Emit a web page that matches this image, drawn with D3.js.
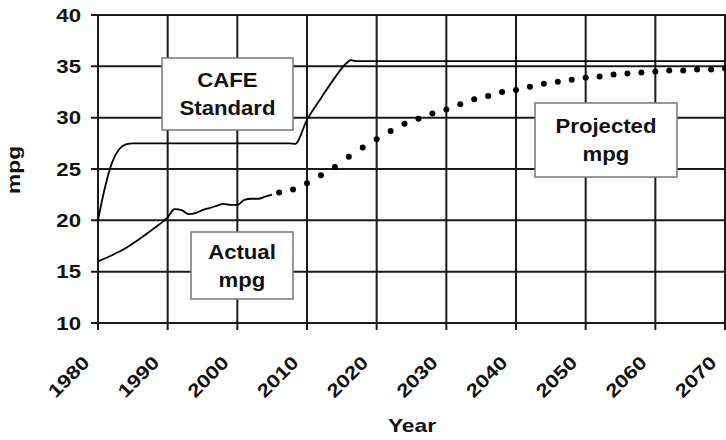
<!DOCTYPE html>
<html><head><meta charset="utf-8">
<script src="https://cdn.jsdelivr.net/npm/d3@7"></script>
<style>body{margin:0;background:#fff}svg{display:block}text{font-family:"Liberation Sans",Arial,sans-serif;font-weight:bold;fill:#111}</style>
</head><body>
<svg id="c" width="726" height="440"></svg>
<script>
const xTicks = [1980,1990,2000,2010,2020,2030,2040,2050,2060,2070];
const yTicks = [10,15,20,25,30,35,40];
const cafeYears = [1980,1981,1982,1983,1984,1985,1990,2000,2007.5,2008.3,2010,2012,2014,2015.5,2016.3,2017,2070];
const cafeValues = [20,23.2,25.6,26.9,27.4,27.5,27.5,27.5,27.5,27.45,29.8,31.9,33.9,35.2,35.6,35.5,35.5];
const actualYears = [1980,1982,1984,1986,1988,1990,1991,1992,1993,1994,1995,1996,1997,1998,1999,2000,2001,2002,2003,2004,2005];
const actualValues = [16,16.6,17.3,18.2,19.2,20.3,21.1,21.0,20.6,20.7,21.0,21.2,21.4,21.6,21.5,21.5,22.0,22.1,22.1,22.3,22.5];
const projYears = [2006,2008,2010,2012,2014,2016,2018,2020,2022,2024,2026,2028,2030,2032,2034,2036,2038,2040,2042,2044,2046,2048,2050,2052,2054,2056,2058,2060,2062,2064,2066,2068,2070];
const projValues = [22.7,23.0,23.6,24.4,25.2,26.2,27.1,27.9,28.7,29.4,29.9,30.4,30.8,31.3,31.8,32.1,32.5,32.7,33.0,33.3,33.5,33.7,33.9,34.0,34.2,34.3,34.4,34.5,34.6,34.6,34.7,34.7,34.8];
const labels = [
  {lines:["CAFE","Standard"], box:[162,58,293,130]},
  {lines:["Actual","mpg"], box:[191,232,293,299]},
  {lines:["Projected","mpg"], box:[535,103,677,177]}
];

const svg = d3.select("#c");
const x = d3.scaleLinear().domain([1980,2070]).range([98,725]);
const y = d3.scaleLinear().domain([10,40]).range([323,15]);
function stretch(f){
  return sel => sel.each(function(){
    const w = this.getComputedTextLength();
    this.setAttribute("textLength", w*f);
    this.setAttribute("lengthAdjust","spacingAndGlyphs");
  });
}

// grid
const g = svg.append("g");
g.selectAll(".vg").data(xTicks).join("line")
  .attr("x1",d=>x(d)).attr("x2",d=>x(d)).attr("y1",y(40)).attr("y2",y(10)+7)
  .attr("stroke","#1a1a1a").attr("stroke-width",2);
g.selectAll(".hg").data(yTicks).join("line")
  .attr("x1",x(1980)-7).attr("x2",x(2070)+1).attr("y1",d=>y(d)).attr("y2",d=>y(d))
  .attr("stroke","#1a1a1a").attr("stroke-width",2);

// y labels
svg.selectAll(".yl").data(yTicks).join("text")
  .attr("x",81).attr("y",d=>y(d)).attr("dy","0.36em")
  .attr("text-anchor","end").attr("font-size",18.5).text(d=>d).call(stretch(1.2));
// x labels
svg.selectAll(".xl").data(xTicks).join("text")
  .attr("transform",d=>`translate(${x(d)-12},${y(10)+36}) rotate(-45)`)
  .attr("text-anchor","end").attr("dy","0.36em").attr("font-size",18.5).text(d=>d).call(stretch(1.2));
svg.append("text").attr("x",412).attr("y",432).attr("text-anchor","middle").attr("font-size",19).text("Year").call(stretch(1.2));
svg.append("text").attr("transform","translate(20,170) rotate(-90)").attr("text-anchor","middle").attr("font-size",19).text("mpg").call(stretch(1.2));

// lines
const line = d3.line().x(d=>x(d[0])).y(d=>y(d[1])).curve(d3.curveMonotoneX);
svg.append("path").datum(d3.zip(cafeYears,cafeValues)).attr("d",line)
  .attr("fill","none").attr("stroke","#000").attr("stroke-width",1.8);
svg.append("path").datum(d3.zip(actualYears,actualValues)).attr("d",line)
  .attr("fill","none").attr("stroke","#000").attr("stroke-width",1.8);
svg.selectAll(".dot").data(d3.zip(projYears,projValues)).join("circle")
  .attr("cx",d=>x(d[0])).attr("cy",d=>y(d[1])).attr("r",3).attr("fill","#000");

// label boxes
labels.forEach(l=>{
  const [x0,y0,x1,y1] = l.box;
  svg.append("rect").attr("x",x0).attr("y",y0).attr("width",x1-x0).attr("height",y1-y0)
    .attr("fill","#fff").attr("stroke","#777").attr("stroke-width",1.5);
  const cx=(x0+x1)/2, cy=(y0+y1)/2;
  l.lines.forEach((t,i)=>{
    svg.append("text").attr("x",cx).attr("y",cy+(i-0.5)*28).attr("dy","0.36em")
      .attr("text-anchor","middle").attr("font-size",20.5).text(t).call(stretch(1.08));
  });
});
</script>
</body></html>
